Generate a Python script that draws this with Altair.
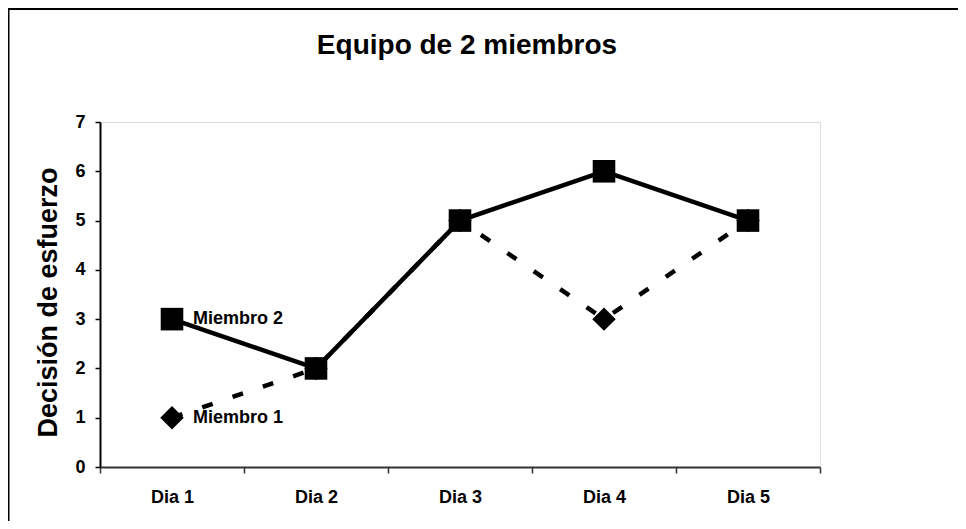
import altair as alt
import pandas as pd

dias = ["Dia 1", "Dia 2", "Dia 3", "Dia 4", "Dia 5"]
miembro1 = [1, 2, 5, 3, 5]
miembro2 = [3, 2, 5, 6, 5]
series = ["Miembro 1", "Miembro 2"]
y_ticks = [0, 1, 2, 3, 4, 5, 6, 7]

rows = []
for d, v in zip(dias, miembro1):
    rows.append({"dia": d, "valor": v, "serie": series[0]})
for d, v in zip(dias, miembro2):
    rows.append({"dia": d, "valor": v, "serie": series[1]})
df = pd.DataFrame(rows)

FONT = "Liberation Sans"

x_enc = alt.X(
    "dia:N",
    sort=dias,
    bandPosition=0.5,
    scale=alt.Scale(type="band", paddingInner=0, paddingOuter=0),
    axis=alt.Axis(
        title=None,
        labelAngle=0,
        tickBand="extent",
        tickSize=6,
        tickColor="#333333",
        tickWidth=1.5,
        domainColor="#333333",
        domainWidth=2,
        labelFont=FONT,
        labelFontSize=18,
        labelFontWeight="bold",
        labelColor="black",
        labelPadding=15,
        grid=False,
    ),
)
y_enc = alt.Y(
    "valor:Q",
    scale=alt.Scale(domain=[0, 7], nice=False),
    axis=alt.Axis(
        title="Decisión de esfuerzo",
        values=y_ticks,
        format="d",
        tickSize=5,
        tickColor="black",
        tickWidth=1.5,
        domainColor="black",
        domainWidth=2,
        labelFont=FONT,
        labelFontSize=18,
        labelFontWeight="bold",
        labelColor="black",
        labelPadding=10,
        titleFont=FONT,
        titleFontSize=27,
        titleFontWeight="bold",
        titleColor="black",
        titlePadding=12,
        titleY=180,
        grid=False,
    ),
)

base = alt.Chart(df)

line1 = base.transform_filter(alt.datum.serie == series[0]).mark_line(
    color="black", strokeWidth=4.5, strokeDash=[11, 21]
).encode(x=x_enc, y=y_enc)

line2 = base.transform_filter(alt.datum.serie == series[1]).mark_line(
    color="black", strokeWidth=4.5
).encode(x=x_enc, y=y_enc)

pts1 = base.transform_filter(alt.datum.serie == series[0]).mark_point(
    shape="diamond", size=550, filled=True, color="black", opacity=1
).encode(x=x_enc, y=y_enc)

pts2 = base.transform_filter(alt.datum.serie == series[1]).mark_point(
    shape="square", size=510, filled=True, color="black", opacity=1
).encode(x=x_enc, y=y_enc)

labels = base.transform_filter(alt.datum.dia == dias[0]).mark_text(
    align="left", baseline="middle", dx=21, font=FONT, fontSize=18,
    fontWeight="bold", color="black"
).encode(x=x_enc, y=y_enc, text="serie:N")

frame_top = alt.Chart(pd.DataFrame({"a": [0]})).mark_rule(
    color="black", strokeWidth=2
).encode(x=alt.value(-92), x2=alt.value(860), y=alt.value(-113))

frame_left = alt.Chart(pd.DataFrame({"a": [0]})).mark_rule(
    color="black", strokeWidth=2
).encode(x=alt.value(-91.5), y=alt.value(-114), y2=alt.value(410))

chart = alt.layer(
    frame_top, frame_left, line1, line2, pts1, pts2, labels
).properties(
    width=720,
    height=345,
    title=alt.TitleParams(
        "Equipo de 2 miembros", font=FONT, fontSize=28, fontWeight="bold",
        color="black", anchor="middle", offset=-53, dx=7
    ),
    autosize=alt.AutoSizeParams(type="none"),
    padding={"left": 92, "top": 114, "right": 138, "bottom": 54},
).configure_view(
    stroke="#808080", strokeWidth=1.5
).configure(background="white")

chart.save("out.html", embed_options={"renderer": "svg", "actions": False})
